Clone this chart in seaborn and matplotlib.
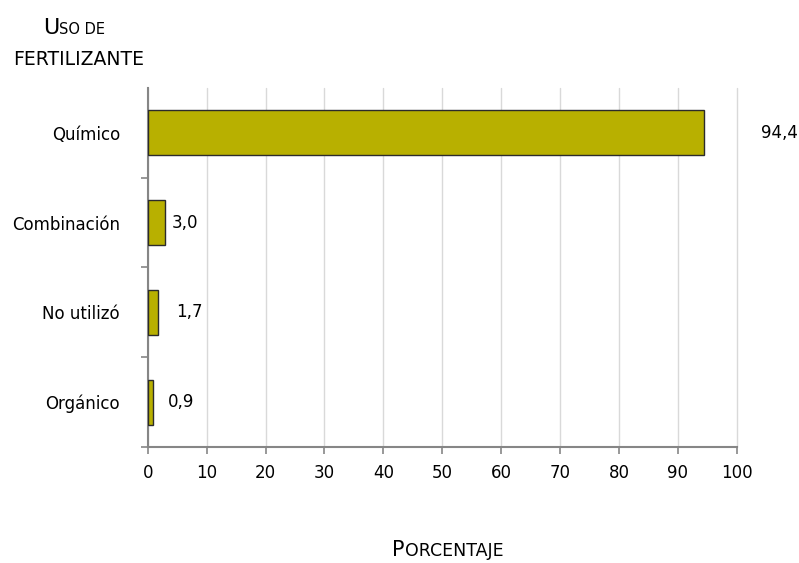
import matplotlib
matplotlib.use('Agg')
import matplotlib.pyplot as plt
import pandas as pd
import seaborn as sns
from matplotlib import font_manager

######################################### DATA #########################################

categorias = ['Químico', 'Combinación', 'No utilizó', 'Orgánico']
porcentajes = [94.4, 3.0, 1.7, 0.9]
etiquetas = ['94,4', '3,0', '1,7', '0,9']
xticks = [0, 10, 20, 30, 40, 50, 60, 70, 80, 90, 100]

# label gap from bar end, in pixels
gaps = [57, 6, 18, 15]

df = pd.DataFrame({'uso': categorias, 'pct': porcentajes})

######################################### STYLE #########################################

sns.set_style('white')
names = {f.name for f in font_manager.fontManager.ttflist}
fam = 'Liberation Sans Narrow' if 'Liberation Sans Narrow' in names else 'DejaVu Sans'
plt.rcParams['font.family'] = [fam, 'DejaVu Sans']
plt.rcParams['text.color'] = 'black'
plt.rcParams['xtick.labelcolor'] = 'black'
plt.rcParams['ytick.labelcolor'] = 'black'

bar_color = '#B8B000'
axis_gray = '#868686'

######################################### PLOT #########################################

fig = plt.figure(figsize=(7.99, 5.63), dpi=100)
ax = fig.add_axes([0.185, 0.206, 0.737, 0.638])

sns.barplot(data=df, x='pct', y='uso', orient='h', color=bar_color, saturation=1,
            width=0.5, edgecolor='#2b2b2b', linewidth=1, ax=ax, zorder=3)

ax.set_xlim(0, 100)
ax.set_ylim(3.5, -0.5)
ax.set_xticks(xticks)
ax.set_xticklabels([str(t) for t in xticks], fontsize=12)
ax.set_yticks(range(len(categorias)))
ax.set_yticklabels(categorias, fontsize=12)
ax.set_yticks([0.5, 1.5, 2.5, 3.5], minor=True)
ax.tick_params(axis='y', which='major', left=True, length=0, pad=20)
ax.tick_params(axis='y', which='minor', left=True, length=5, color=axis_gray, width=1.2)
ax.tick_params(axis='x', which='major', bottom=True, length=5, color=axis_gray, width=1.2, pad=7)
ax.set_xlabel('')
ax.set_ylabel('')

ax.grid(axis='x', color='#d9d9d9', linewidth=1, zorder=0)
ax.grid(axis='y', visible=False)
for gl in ax.get_xgridlines():
    gl.set_clip_on(False)
ax.set_axisbelow(True)
for s in ['top', 'right']:
    ax.spines[s].set_visible(False)
for s in ['left', 'bottom']:
    ax.spines[s].set_color(axis_gray)
    ax.spines[s].set_linewidth(1.5)

for i, (v, lab) in enumerate(zip(porcentajes, etiquetas)):
    ax.annotate(lab, xy=(v, i), xytext=(gaps[i] * 0.72, 0), textcoords='offset points',
                ha='left', va='center', fontsize=12, annotation_clip=False)

renderer = fig.canvas.get_renderer()


def small_caps(x, y, parts, big=15, small=11):
    # faux small caps: big capital then smaller capitals on the same baseline
    for txt, is_big in parts:
        t = fig.text(x, y, txt, fontsize=big if is_big else small,
                     ha='left', va='baseline')
        w = t.get_window_extent(renderer=renderer).width
        x += w / fig.bbox.width


small_caps(43 / 799, 1 - 34 / 563, [('U', True), ('SO DE', False)], big=16, small=10.5)
small_caps(13 / 799, 1 - 65 / 563, [('FERTILIZANTE', False)], small=13.5)
small_caps(392 / 799, 1 - 556 / 563, [('P', True), ('ORCENTAJE', False)], big=15, small=12.5)

plt.savefig('out.png', dpi=100)
